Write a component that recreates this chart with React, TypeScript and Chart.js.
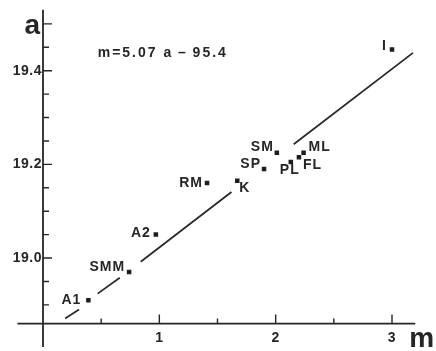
import React, { useEffect, useRef } from "react";
import { Chart, registerables } from "chart.js";

Chart.register(...registerables);

// ---- data ----
const pointLabels = ["A1", "SMM", "A2", "RM", "K", "SP", "SM", "PL", "FL", "ML", "I"];
const mValues = [0.39, 0.74, 0.97, 1.41, 1.67, 1.9, 2.01, 2.13, 2.2, 2.24, 3.0];
const aValues = [18.91, 18.97, 19.05, 19.16, 19.165, 19.19, 19.225, 19.205, 19.215, 19.225, 19.445];

// regression line m = 5.07 a - 95.4, drawn broken around the labels (null = gap)
const fitLineM = [0.19, 0.31, null, 0.47, 0.66, null, 0.84, 1.62, null, 2.155, 3.18];
const fitLineA = [18.871, 18.89, null, 18.924, 18.958, null, 18.992, 19.141, null, 19.243, 19.438];
const equationText = "m=5.07 a\u2009\u2013\u200995.4";

const xTickValues = [1, 2, 3];
const xTickLabels = ["1", "2", "3"];
const xMinorTicks = [0.5, 1.5, 2.5];
const yTickValues = [19.0, 19.2, 19.4];
const yTickLabels = ["19.0", "19.2", "19.4"];
const yMinorTicks = [18.9, 18.95, 19.05, 19.1, 19.15, 19.25, 19.3, 19.35, 19.45];
const yTitleTick = 19.5;
const xAxisTitle = "m";
const yAxisTitle = "a";
const xAxisCrossAt = 18.86; // a value where the m axis is drawn
const yAxisCrossAt = 0; // m value where the a axis is drawn

// label placement (offset from marker, px) — styling only
const labelPlacement: { align: CanvasTextAlign; dx: number; dy: number }[] = [
  { align: "right", dx: -7, dy: 0 },
  { align: "right", dx: -4, dy: -5 },
  { align: "right", dx: -5, dy: -1 },
  { align: "right", dx: -4, dy: 0 },
  { align: "left", dx: 2, dy: 7 },
  { align: "right", dx: -3, dy: -5 },
  { align: "right", dx: -3, dy: -6 },
  { align: "center", dx: -1, dy: 8 },
  { align: "left", dx: 4, dy: 8 },
  { align: "left", dx: 5, dy: -6 },
  { align: "right", dx: -5, dy: -3 },
];

const INK = "#262626";
const FONT = '"Liberation Sans", Arial, sans-serif';

const crossAxesPlugin = {
  id: "crossAxes",
  beforeDatasetsDraw(chart: any) {
    const { ctx, chartArea } = chart;
    const xs = chart.scales.x;
    const ys = chart.scales.y;
    const x0 = xs.getPixelForValue(yAxisCrossAt);
    const y0 = ys.getPixelForValue(xAxisCrossAt);
    ctx.save();
    ctx.strokeStyle = INK;
    ctx.lineWidth = 1.8;
    ctx.beginPath();
    ctx.moveTo(chartArea.left, y0);
    ctx.lineTo(chartArea.right, y0);
    ctx.moveTo(x0, chartArea.top);
    ctx.lineTo(x0, chartArea.bottom);
    ctx.stroke();

    ctx.lineWidth = 1.4;
    ctx.beginPath();
    [...yTickValues, yTitleTick].forEach((v) => {
      const p = ys.getPixelForValue(v);
      ctx.moveTo(x0, p);
      ctx.lineTo(x0 + 9, p);
    });
    yMinorTicks.forEach((v) => {
      const p = ys.getPixelForValue(v);
      ctx.moveTo(x0, p);
      ctx.lineTo(x0 + 6, p);
    });
    xTickValues.forEach((v) => {
      const p = xs.getPixelForValue(v);
      ctx.moveTo(p, y0);
      ctx.lineTo(p, y0 - 9);
    });
    xMinorTicks.forEach((v) => {
      const p = xs.getPixelForValue(v);
      ctx.moveTo(p, y0);
      ctx.lineTo(p, y0 - 5);
    });
    ctx.stroke();

    ctx.fillStyle = INK;
    ctx.font = `bold 14px ${FONT}`;
    (ctx as any).letterSpacing = "0.5px";
    ctx.textAlign = "right";
    ctx.textBaseline = "middle";
    yTickValues.forEach((v, i) => {
      ctx.fillText(yTickLabels[i], x0 - 1, ys.getPixelForValue(v));
    });
    ctx.textAlign = "center";
    ctx.textBaseline = "top";
    xTickValues.forEach((v, i) => {
      ctx.fillText(xTickLabels[i], xs.getPixelForValue(v), y0 + 8);
    });

    (ctx as any).letterSpacing = "0px";
    ctx.font = `bold 28px ${FONT}`;
    ctx.textAlign = "right";
    ctx.textBaseline = "alphabetic";
    ctx.fillText(yAxisTitle, x0 - 3, ys.getPixelForValue(yTitleTick) + 10);
    ctx.textAlign = "left";
    ctx.fillText(xAxisTitle, chartArea.right - 6, y0 + 23);

    ctx.font = `bold 14px ${FONT}`;
    ctx.textAlign = "left";
    (ctx as any).letterSpacing = "2px";
    ctx.fillText(equationText, xs.getPixelForValue(0.47), ys.getPixelForValue(19.429));
    ctx.restore();
  },
  afterDatasetsDraw(chart: any) {
    const { ctx } = chart;
    const meta = chart.getDatasetMeta(0);
    ctx.save();
    ctx.fillStyle = INK;
    ctx.font = `bold 14px ${FONT}`;
    (ctx as any).letterSpacing = "1px";
    ctx.textBaseline = "middle";
    meta.data.forEach((el: any, i: number) => {
      const pl = labelPlacement[i];
      ctx.textAlign = pl.align;
      ctx.fillText(pointLabels[i], el.x + pl.dx, el.y + pl.dy);
    });
    ctx.restore();
  },
};

export default function App() {
  const canvasRef = useRef<HTMLCanvasElement | null>(null);

  useEffect(() => {
    const canvas = canvasRef.current;
    if (!canvas) return;
    const points = mValues.map((m, i) => ({ x: m, y: aValues[i] }));
    const line = fitLineM.map((m, i) => ({ x: m, y: fitLineA[i] }));
    const chart = new Chart(canvas, {
      type: "scatter",
      data: {
        datasets: [
          {
            data: points as any,
            pointStyle: "rect",
            pointRadius: 3.2,
            backgroundColor: "#1e1e1e",
            borderColor: "#1e1e1e",
            borderWidth: 0,
            showLine: false,
          },
          {
            type: "line",
            data: line as any,
            borderColor: "#2a2a2a",
            borderWidth: 1.8,
            pointRadius: 0,
            spanGaps: false,
            fill: false,
          } as any,
        ],
      },
      options: {
        responsive: false,
        animation: false,
        layout: { padding: { left: 17.41, right: 20.73, top: 9.8, bottom: 2.26 } },
        plugins: { legend: { display: false }, tooltip: { enabled: false } },
        scales: {
          x: { type: "linear", min: -0.22, max: 3.2, display: false },
          y: { type: "linear", min: 18.81, max: 19.53, display: false },
        },
      },
      plugins: [crossAxesPlugin],
    });
    return () => chart.destroy();
  }, []);

  return (
    <div style={{ position: "fixed", left: 0, top: 0, width: 436, height: 351, background: "#fff" }}>
      <canvas ref={canvasRef} width={436} height={351} style={{ display: "block" }} />
    </div>
  );
}
